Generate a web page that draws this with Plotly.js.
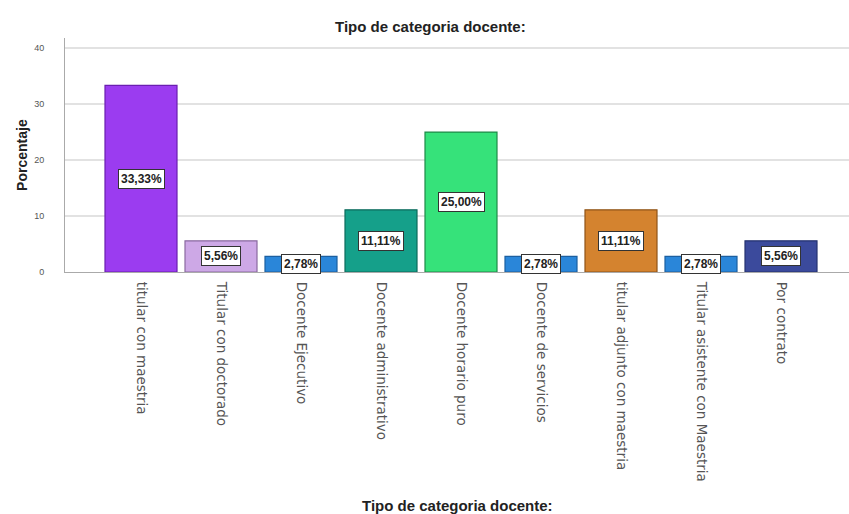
<!DOCTYPE html>
<html>
<head>
<meta charset="utf-8">
<script src="https://cdn.plot.ly/plotly-3.0.1.min.js"></script>
<style>html,body{margin:0;padding:0;background:#fff;}#chart{width:849px;height:514px;}</style>
</head>
<body>
<div id="chart"></div>
<script>
const categories = ["titular con maestria", "Titular con doctorado", "Docente Ejecutivo", "Docente administrativo", "Docente horario puro", "Docente de servicios", "titular adjunto con maestria", "Titular asistente con Maestria", "Por contrato"];
const percentages = [33.33, 5.56, 2.78, 11.11, 25.00, 2.78, 11.11, 2.78, 5.56];
const valueLabels = ["33,33%", "5,56%", "2,78%", "11,11%", "25,00%", "2,78%", "11,11%", "2,78%", "5,56%"];
const barColors = ["#9b3cf0", "#cda8e6", "#2a86d9", "#15a08a", "#36e27a", "#2a86d9", "#d4832f", "#2a86d9", "#3b4a9c"];
const edgeColors = ["#6a1fb0", "#8a6aa0", "#1c5fa0", "#0c6b5c", "#1f8a48", "#1c5fa0", "#8f5418", "#1c5fa0", "#253270"];

const xIdx = categories.map((c, i) => i);

const trace = {
  type: "bar",
  x: xIdx,
  y: percentages,
  width: 0.9,
  marker: { color: barColors, line: { color: edgeColors, width: 1.2 } },
  hoverinfo: "none"
};

const annotations = percentages.map((v, i) => ({
  x: i, y: v / 2, xref: "x", yref: "y",
  text: "<b>" + valueLabels[i] + "</b>",
  showarrow: false,
  bgcolor: "#ffffff",
  bordercolor: "#333333",
  borderwidth: 1,
  borderpad: 2,
  font: { family: "Liberation Sans Narrow, Arial Narrow, Liberation Sans, sans-serif", size: 12, color: "#222" }
}));

annotations.push({
  text: "<b>Porcentaje</b>", xref: "paper", yref: "paper", x: -0.055, y: 0.5,
  xanchor: "center", yanchor: "middle", textangle: -90, showarrow: false,
  font: { family: "Liberation Sans Narrow, Liberation Sans, Arial, sans-serif", size: 14, color: "#222" }
});

annotations.push({
  text: "<b>Tipo de categoria docente:</b>", xref: "paper", yref: "paper",
  x: 0.5, y: -(505 - 272) / 234, xanchor: "center", yanchor: "middle", showarrow: false,
  font: { family: "Liberation Sans, Arial, sans-serif", size: 15, color: "#222" }
});

const layout = {
  width: 849, height: 514,
  margin: { l: 65, r: 0, t: 38, b: 242 },
  paper_bgcolor: "#fff", plot_bgcolor: "#fff",
  showlegend: false,
  title: {
    text: "<b>Tipo de categoria docente:</b>",
    x: 0.466, xref: "paper", xanchor: "center", y: 1 - 27 / 514, yref: "container", yanchor: "middle",
    font: { family: "Liberation Sans, Arial, sans-serif", size: 15, color: "#222" }
  },
  xaxis: {
    type: "linear",
    range: [-0.95, 8.85],
    tickmode: "array",
    tickvals: xIdx,
    ticktext: categories,
    tickangle: 90,
    ticks: "",
    showgrid: false,
    zeroline: false,
    showline: true,
    linecolor: "#aaaaaa",
    linewidth: 1,
    ticklabelstandoff: 6,
    tickfont: { family: "DejaVu Sans, sans-serif", size: 13.5, color: "#555" },
    automargin: false
  },
  yaxis: {
    range: [0, 41.8],
    tickvals: [0, 10, 20, 30, 40],
    ticktext: ["0", "10", "20", "30", "40"],
    ticks: "",
    showgrid: true,
    gridcolor: "#e2e2e2",
    gridwidth: 2,
    zeroline: false,
    showline: true,
    linecolor: "#aaaaaa",
    linewidth: 1,
    tickfont: { family: "Liberation Sans, Arial, sans-serif", size: 9, color: "#555" },
    ticklabelstandoff: 18,
    automargin: false
  },
  annotations: annotations
};

Plotly.newPlot("chart", [trace], layout, { staticPlot: true, displayModeBar: false });
</script>
</body>
</html>
